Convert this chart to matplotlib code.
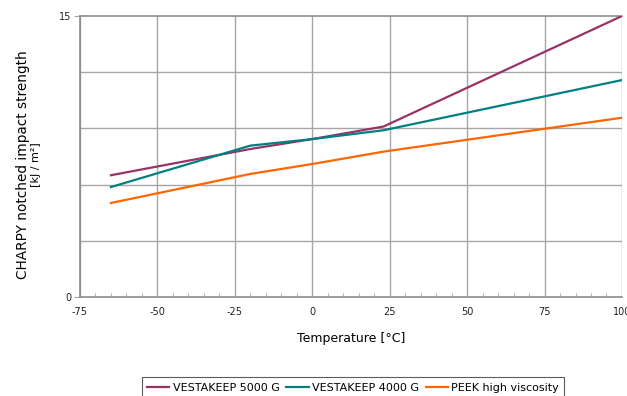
import matplotlib

matplotlib.use("Agg")

import matplotlib.pyplot as plt
from matplotlib.ticker import MultipleLocator

# values
temperature = [-65, -20, 0, 23, 100]
vestakeep_5000g = [6.5, 7.9, 8.43, 9.1, 15.0]
vestakeep_4000g = [5.87, 8.08, 8.43, 8.9, 11.58]
peek_high_visc = [5.02, 6.57, 7.1, 7.76, 9.57]

series_labels = ["VESTAKEEP 5000 G", "VESTAKEEP 4000 G", "PEEK high viscosity"]
series_colors = ["#993366", "#008080", "#FF6600"]

x_ticks = [-75, -50, -25, 0, 25, 50, 75, 100]
y_ticks = [0, 15]

plt.rcParams["axes.unicode_minus"] = False
FONT = ["DejaVu Sans"]
GRID = "#a6a6a6"

fig = plt.figure(figsize=(6.27, 3.96), dpi=100)
ax = fig.add_axes([0.1276, 0.25, 0.8644, 0.7096])

for values, label, color in zip(
    [vestakeep_5000g, vestakeep_4000g, peek_high_visc], series_labels, series_colors
):
    ax.plot(temperature, values, color=color, lw=1.6, label=label, zorder=3)

ax.set_xlim(-75, 100)
ax.set_ylim(0, 15)
ax.set_xticks(x_ticks)
ax.xaxis.set_minor_locator(MultipleLocator(5))
ax.set_yticks(y_ticks)
ax.yaxis.set_minor_locator(MultipleLocator(3))

ax.grid(True, which="major", axis="x", color=GRID, lw=1.0)
ax.grid(True, which="minor", axis="y", color=GRID, lw=1.0)
ax.tick_params(axis="x", which="major", direction="in", length=0, pad=7, labelsize=7)
ax.tick_params(axis="x", which="minor", direction="in", length=3, color=GRID)
ax.tick_params(axis="y", which="major", direction="out", length=4, color=GRID, pad=2, labelsize=7)
ax.tick_params(axis="y", which="minor", length=0)
for lab in ax.get_xticklabels() + ax.get_yticklabels():
    lab.set_color("#222222")

for side in ["left", "bottom", "top"]:
    ax.spines[side].set_color("#8c8c8c")
    ax.spines[side].set_linewidth(1.2)
ax.spines["right"].set_visible(False)

ax.set_xlabel("Temperature [°C]", family=FONT, fontsize=9, labelpad=11)
fig.text(0.036, 0.585, "CHARPY notched impact strength",
         rotation=90, ha="center", va="center", fontsize=9.8, family=FONT)
fig.text(0.057, 0.585, "[kJ / m²]", rotation=90, ha="center", va="center",
         fontsize=8, family=FONT)

leg = fig.legend(loc="lower center", bbox_to_anchor=(0.563, -0.02), ncol=3,
                 frameon=True, fancybox=False, handlelength=2.0,
                 handletextpad=0.3, columnspacing=0.6, borderpad=0.5,
                 prop={"family": FONT, "size": 8})
leg.get_frame().set_edgecolor("#333333")
leg.get_frame().set_linewidth(0.8)

fig.savefig("out.png", dpi=100)
